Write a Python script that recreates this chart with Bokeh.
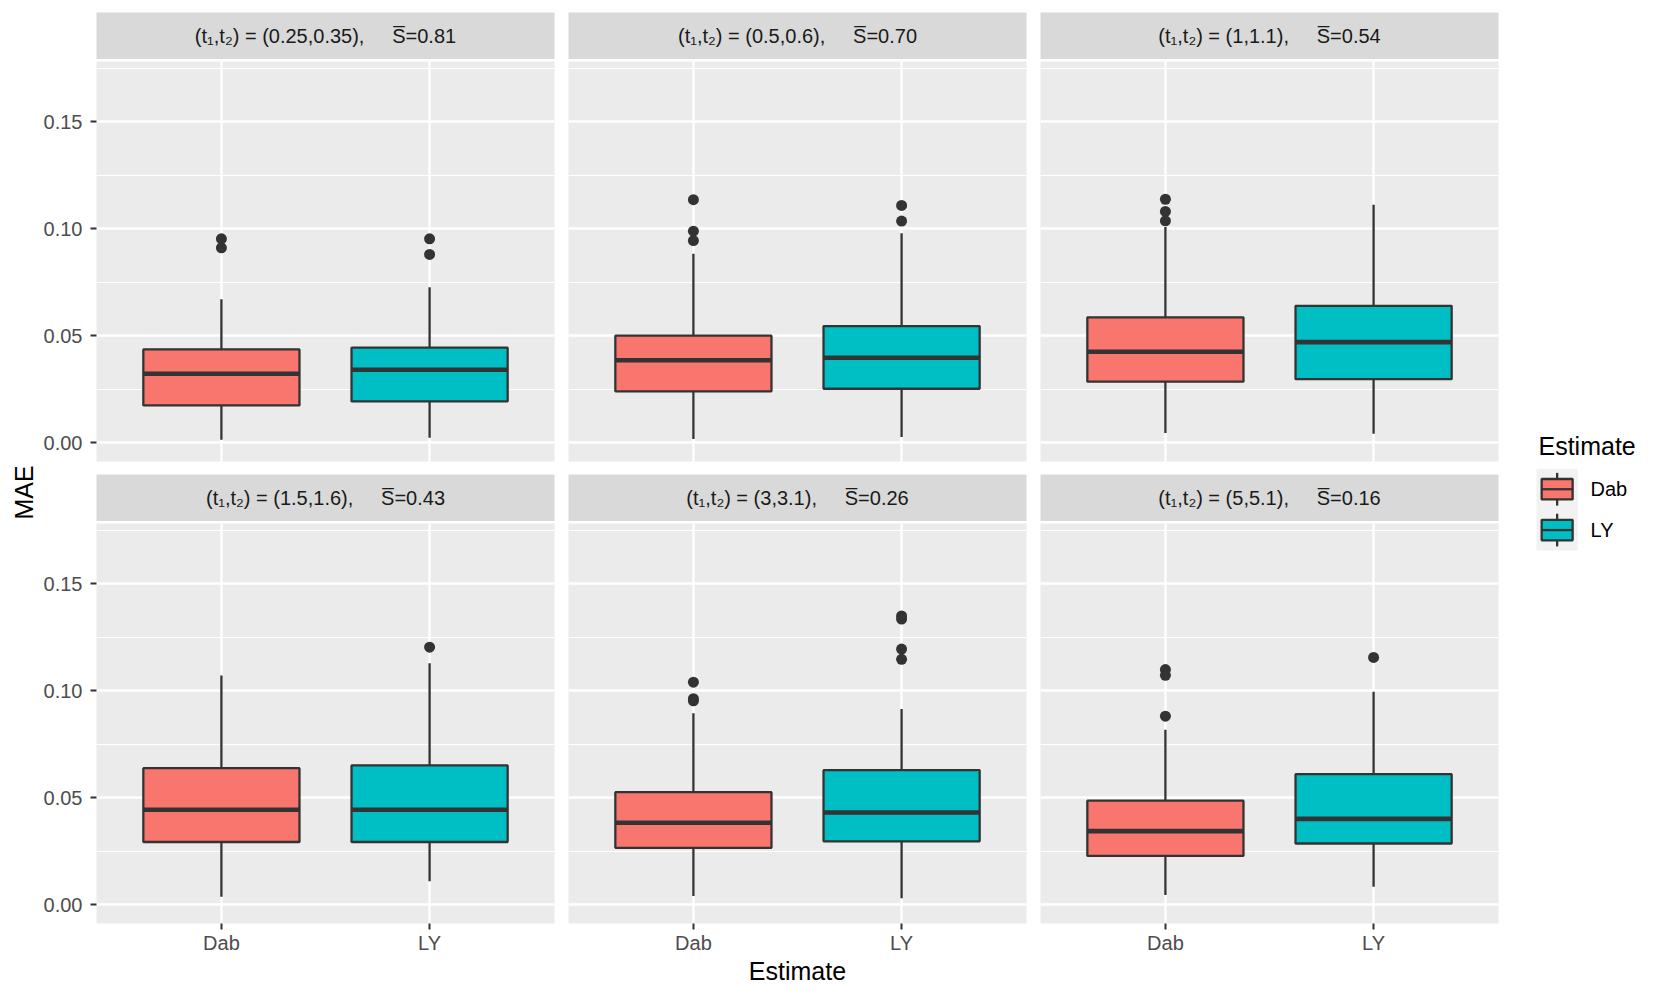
import numpy as np
from bokeh.plotting import figure
from bokeh.layouts import row, column
from bokeh.models import Range1d, LinearAxis, Grid, FixedTicker, NumeralTickFormatter
from bokeh.core.properties import value
from bokeh.embed import file_html
from bokeh.resources import INLINE

# ---------------- data ----------------
estimates = ["Dab", "LY"]
fill_colors = ["#F8766D", "#00BFC4"]
t_params = ["(0.25,0.35)", "(0.5,0.6)", "(1,1.1)", "(1.5,1.6)", "(3,3.1)", "(5,5.1)"]
s_bar = ["0.81", "0.70", "0.54", "0.43", "0.26", "0.16"]

whisker_low = [[0.0014, 0.0023], [0.0017, 0.0026], [0.0045, 0.0042],
               [0.0037, 0.0109], [0.0040, 0.0030], [0.0045, 0.0084]]
q1 = [[0.0174, 0.0193], [0.0240, 0.0252], [0.0285, 0.0297],
      [0.0293, 0.0293], [0.0266, 0.0296], [0.0228, 0.0286]]
median = [[0.0322, 0.0341], [0.0385, 0.0397], [0.0425, 0.0470],
          [0.0444, 0.0444], [0.0383, 0.0431], [0.0344, 0.0401]]
q3 = [[0.0436, 0.0444], [0.0500, 0.0545], [0.0586, 0.0640],
      [0.0638, 0.0651], [0.0526, 0.0629], [0.0486, 0.0610]]
whisker_high = [[0.0670, 0.0727], [0.0883, 0.0979], [0.1008, 0.1112],
                [0.1071, 0.1129], [0.0895, 0.0915], [0.0818, 0.0996]]
outliers = [
    [[0.0953, 0.0911], [0.0953, 0.0880]],
    [[0.1136, 0.0989, 0.0945], [0.1109, 0.1036]],
    [[0.1138, 0.1081, 0.1037], []],
    [[], [0.1204]],
    [[0.1040, 0.0963, 0.0953], [0.1350, 0.1335, 0.1195, 0.1147]],
    [[0.1099, 0.1072, 0.0881], [0.1156]],
]
y_ticks = [0.0, 0.05, 0.10, 0.15]
y_minor = [0.025, 0.075, 0.125, 0.175]

# ---------------- style ----------------
FONT = "Liberation Sans"
PANEL_BG = "#EBEBEB"
STRIP_BG = "#D9D9D9"
DARK = "#333333"
Y0, Y1 = -0.0088, 0.1782
FRAME_W, FRAME_H = 458, 400
OFF = 8  # shift of the whole drawing from the page corner

col_borders = [(56, 7), (7, 7), (7, 7)]


def make_panel(idx, r, c):
    bl, br = col_borders[c]
    top_b = 2
    bot_b = 13 if r == 0 else 64
    p = figure(width=bl + FRAME_W + br, height=top_b + FRAME_H + bot_b,
               x_range=Range1d(0.4, 2.6), y_range=Range1d(Y0, Y1),
               x_axis_type=None, y_axis_type=None,
               toolbar_location=None, output_backend="svg",
               min_border_left=bl, min_border_right=br,
               min_border_top=top_b, min_border_bottom=bot_b,
               background_fill_color=PANEL_BG, border_fill_color="white",
               outline_line_color=None)
    xt = FixedTicker(ticks=list(range(1, len(estimates) + 1)), minor_ticks=[])
    yt = FixedTicker(ticks=y_ticks, minor_ticks=y_minor)
    p.add_layout(Grid(dimension=0, ticker=xt, grid_line_color="white",
                      grid_line_width=2.3), "center")
    p.add_layout(Grid(dimension=1, ticker=yt, grid_line_color="white",
                      grid_line_width=2.3, minor_grid_line_color="white",
                      minor_grid_line_width=1.2), "center")
    if c == 0:
        ya = LinearAxis(ticker=FixedTicker(ticks=y_ticks),
                        formatter=NumeralTickFormatter(format="0.00"))
        ya.axis_line_color = None
        ya.major_tick_line_color = DARK
        ya.major_tick_line_width = 2
        ya.major_tick_out = 6
        ya.major_tick_in = 0
        ya.minor_tick_line_color = None
        ya.major_label_standoff = 8
        ya.major_label_text_font = FONT
        ya.major_label_text_font_size = "20px"
        ya.major_label_text_color = "#4D4D4D"
        p.add_layout(ya, "left")
    if r == 1:
        xa = LinearAxis(ticker=FixedTicker(ticks=list(range(1, len(estimates) + 1))))
        xa.major_label_overrides = {i + 1: e for i, e in enumerate(estimates)}
        xa.axis_line_color = None
        xa.major_tick_line_color = DARK
        xa.major_tick_line_width = 2
        xa.major_tick_out = 6
        xa.major_tick_in = 0
        xa.minor_tick_line_color = None
        xa.major_label_standoff = 2
        xa.major_label_text_font = FONT
        xa.major_label_text_font_size = "20px"
        xa.major_label_text_color = "#4D4D4D"
        if c == 1:
            xa.axis_label = "Estimate"
            xa.axis_label_text_font = FONT
            xa.axis_label_text_font_size = "25px"
            xa.axis_label_text_font_style = "normal"
            xa.axis_label_text_color = "black"
            xa.axis_label_standoff = 0
        p.add_layout(xa, "below")

    pos = np.arange(1, len(estimates) + 1, dtype=float)
    lo = np.array(whisker_low[idx]); hi = np.array(whisker_high[idx])
    a = np.array(q1[idx]); b = np.array(q3[idx]); m = np.array(median[idx])
    for k, vals in enumerate(outliers[idx]):
        if vals:
            p.scatter(x=[pos[k]] * len(vals), y=vals, size=11, color=DARK,
                      line_width=0)
    p.segment(x0=pos, y0=b, x1=pos, y1=hi, line_color=DARK, line_width=2.3)
    p.segment(x0=pos, y0=lo, x1=pos, y1=a, line_color=DARK, line_width=2.3)
    p.vbar(x=pos, width=0.75, bottom=a, top=b, fill_color=fill_colors,
           line_color=DARK, line_width=2.3)
    p.segment(x0=pos - 0.375, y0=m, x1=pos + 0.375, y1=m, line_color=DARK,
              line_width=4.6, line_cap="butt")
    return p


def make_strip(idx, r, c):
    bl, br = col_borders[c]
    top_b = 4 + OFF if r == 0 else 0
    p = figure(width=bl + FRAME_W + br, height=top_b + 47,
               x_range=Range1d(0, 1), y_range=Range1d(0, 1),
               x_axis_type=None, y_axis_type=None,
               toolbar_location=None, output_backend="svg",
               min_border_left=bl, min_border_right=br,
               min_border_top=top_b, min_border_bottom=0,
               background_fill_color=STRIP_BG, border_fill_color="white",
               outline_line_color=None)
    label = "(t\u2081,t\u2082) = " + t_params[idx] + ",\u00a0\u00a0\u00a0\u00a0\u00a0S\u0305=" + s_bar[idx]
    p.text(x=[0.5], y=[0.5], text=[label], text_font=value(FONT),
           text_font_size="20px", text_color="#1A1A1A",
           text_align="center", text_baseline="middle")
    return p


TOTAL_H = OFF + 51 + 415 + 47 + 466

rows = []
for r in range(2):
    rows.append(row(*[make_strip(r * 3 + c, r, c) for c in range(3)]))
    rows.append(row(*[make_panel(r * 3 + c, r, c) for c in range(3)]))
grid_col = column(*rows)

# y-axis title
mae_w = 32 + OFF
mae = figure(width=mae_w, height=TOTAL_H, x_range=Range1d(0, mae_w),
             y_range=Range1d(TOTAL_H, 0), x_axis_type=None, y_axis_type=None,
             toolbar_location=None, output_backend="svg", min_border=0,
             outline_line_color=None, background_fill_color="white",
             border_fill_color="white")
mae.text(x=[15 + OFF], y=[484 + OFF], text=["MAE"], angle=np.pi / 2,
         text_font=value(FONT), text_font_size="25px", text_color="black",
         text_align="center", text_baseline="middle")

# legend
leg = figure(width=140, height=TOTAL_H, x_range=Range1d(0, 140),
             y_range=Range1d(TOTAL_H, 0), x_axis_type=None, y_axis_type=None,
             toolbar_location=None, output_backend="svg", min_border=0,
             outline_line_color=None, background_fill_color="white",
             border_fill_color="white")
leg.text(x=[33], y=[437 + OFF], text=["Estimate"], text_font=value(FONT),
         text_font_size="25px", text_color="black", text_align="left",
         text_baseline="middle")
kl, kr, kt, kh = 31.0, 72.3, 460.3 + OFF, 40.85
kw = kr - kl
kx = (kl + kr) / 2
n = len(estimates)
tops = np.array([kt + kh * k for k in range(n)])
leg.quad(left=[kl] * n, right=[kr] * n, top=tops, bottom=tops + kh,
         fill_color="#F2F2F2", line_color=None)
leg.segment(x0=[kx] * n, x1=[kx] * n, y0=tops + 0.1 * kh, y1=tops + 0.25 * kh,
            line_color=DARK, line_width=2.3)
leg.segment(x0=[kx] * n, x1=[kx] * n, y0=tops + 0.75 * kh, y1=tops + 0.9 * kh,
            line_color=DARK, line_width=2.3)
leg.quad(left=[kl + 0.125 * kw] * n, right=[kr - 0.125 * kw] * n,
         top=tops + 0.25 * kh, bottom=tops + 0.75 * kh,
         fill_color=fill_colors, line_color=DARK, line_width=2.3)
leg.segment(x0=[kl + 0.125 * kw] * n, x1=[kr - 0.125 * kw] * n,
            y0=tops + 0.5 * kh, y1=tops + 0.5 * kh, line_color=DARK,
            line_width=2.3)
leg.text(x=[85] * n, y=tops + 0.5 * kh, text=estimates, text_font=value(FONT),
         text_font_size="20px", text_color="black", text_align="left",
         text_baseline="middle")

layout = row(mae, grid_col, leg)

open("out.html", "w").write(file_html(layout, INLINE))
